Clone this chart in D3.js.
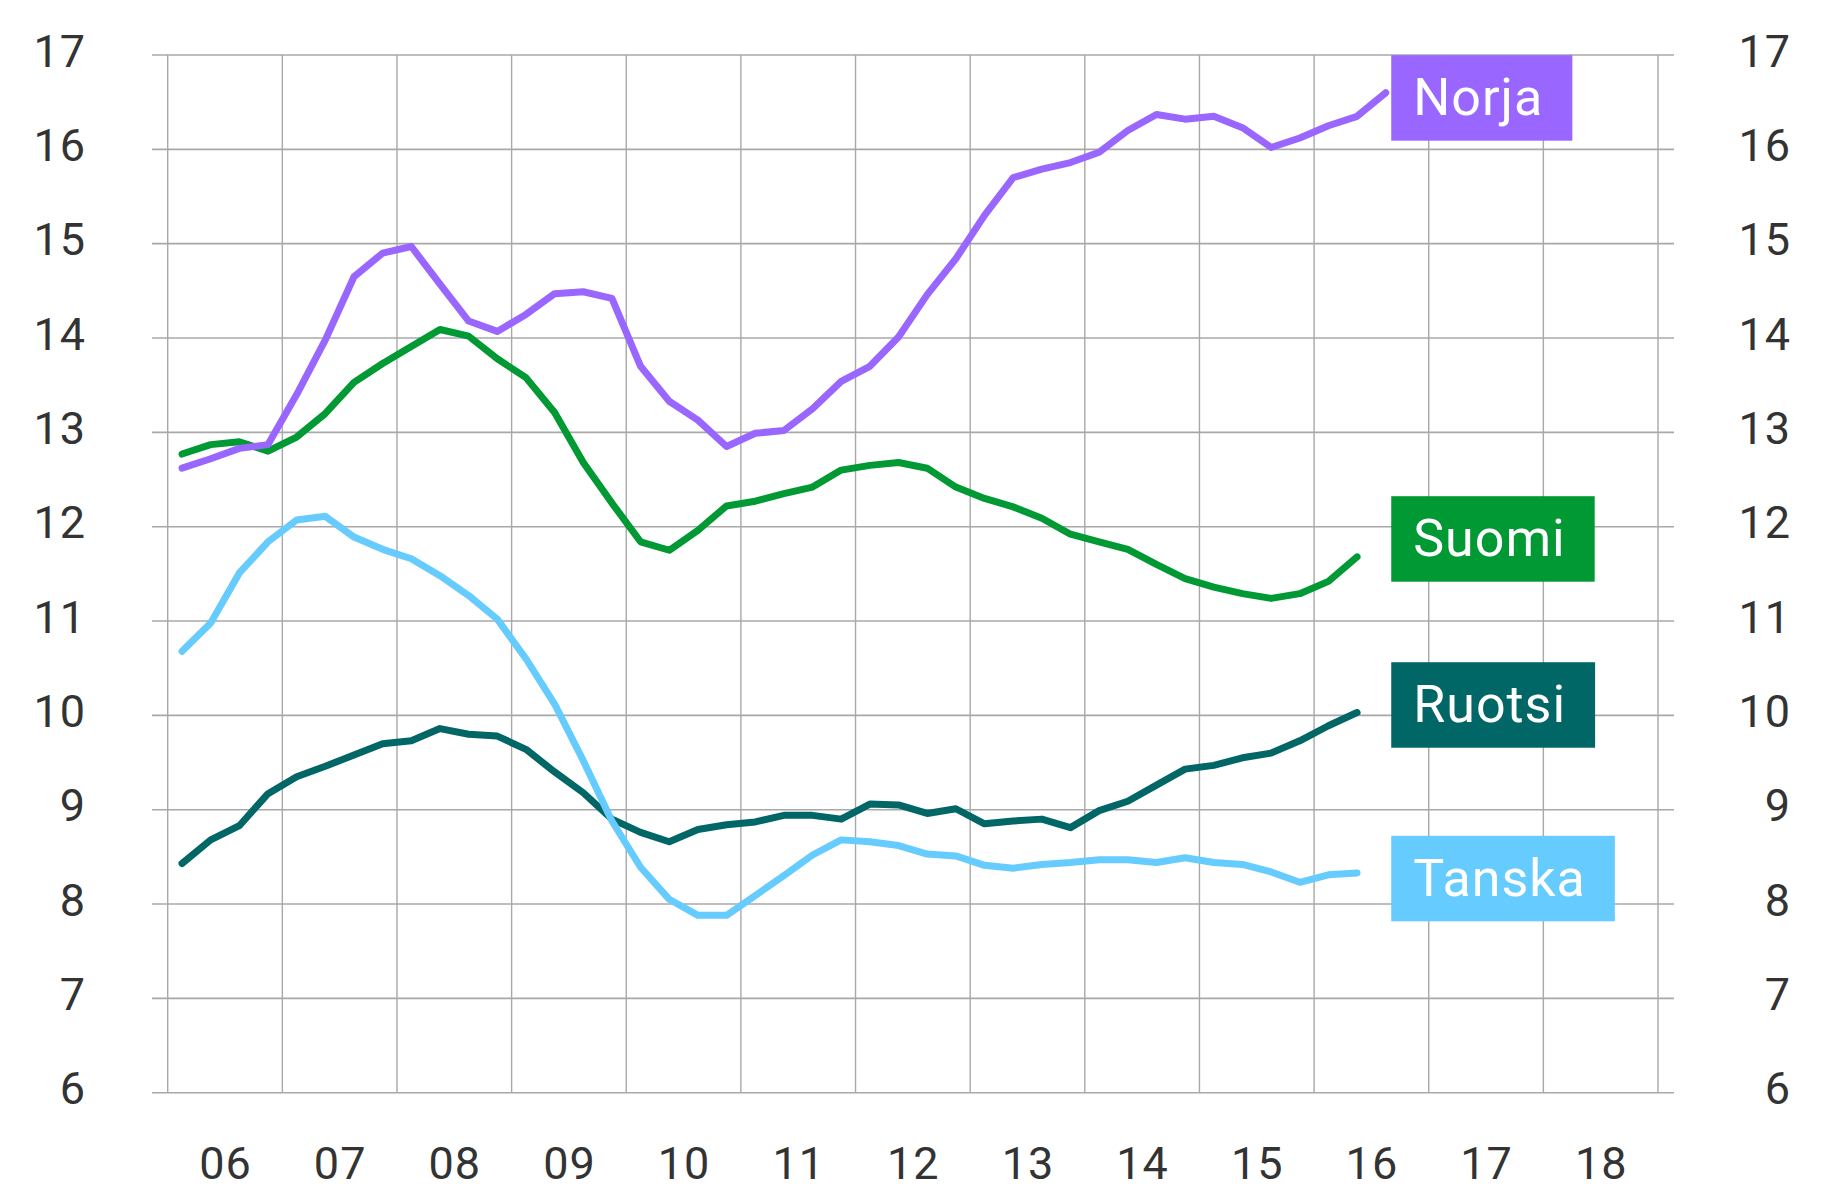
<!DOCTYPE html>
<html>
<head>
<meta charset="utf-8">
<script src="https://cdn.jsdelivr.net/npm/d3@7"></script>
<style>
  html, body { margin: 0; padding: 0; background: #fff; }
  svg { display: block; font-family: Roboto, "Noto Sans", sans-serif; }
</style>
</head>
<body>
<svg id="chart" width="1836" height="1192"></svg>
<script>
// Quarterly series, first value = 2006 Q1
const startYear = 2006;
const norja = [12.62, 12.72, 12.83, 12.87, 13.40, 13.98, 14.65, 14.90, 14.97, 14.57,
  14.18, 14.07, 14.25, 14.47, 14.49, 14.42, 13.70, 13.33, 13.13, 12.85,
  12.99, 13.02, 13.25, 13.54, 13.70, 14.01, 14.46, 14.84, 15.30, 15.70,
  15.79, 15.86, 15.97, 16.20, 16.37, 16.32, 16.35, 16.23, 16.02, 16.12,
  16.25, 16.35, 16.60];
const suomi = [12.77, 12.87, 12.90, 12.80, 12.95, 13.20, 13.53, 13.73, 13.91, 14.09,
  14.02, 13.78, 13.58, 13.21, 12.68, 12.25, 11.84, 11.75, 11.96, 12.22,
  12.27, 12.35, 12.42, 12.60, 12.65, 12.68, 12.62, 12.42, 12.30, 12.21,
  12.09, 11.92, 11.84, 11.76, 11.60, 11.45, 11.36, 11.29, 11.24, 11.29,
  11.42, 11.68];
const ruotsi = [8.43, 8.68, 8.83, 9.17, 9.35, 9.46, 9.58, 9.70, 9.73, 9.86,
  9.80, 9.78, 9.64, 9.40, 9.18, 8.90, 8.76, 8.66, 8.79, 8.84,
  8.87, 8.94, 8.94, 8.90, 9.06, 9.05, 8.96, 9.01, 8.85, 8.88,
  8.90, 8.81, 8.99, 9.09, 9.26, 9.43, 9.47, 9.55, 9.60, 9.73,
  9.89, 10.03];
const tanska = [10.68, 10.98, 11.51, 11.84, 12.07, 12.11, 11.89, 11.76, 11.66, 11.48,
  11.27, 11.02, 10.60, 10.12, 9.52, 8.88, 8.39, 8.05, 7.88, 7.88,
  8.09, 8.30, 8.52, 8.68, 8.66, 8.62, 8.53, 8.51, 8.41, 8.38,
  8.42, 8.44, 8.47, 8.47, 8.44, 8.49, 8.44, 8.42, 8.34, 8.23,
  8.31, 8.33];

const yTicks = [6, 7, 8, 9, 10, 11, 12, 13, 14, 15, 16, 17];
const years = [2006, 2007, 2008, 2009, 2010, 2011, 2012, 2013, 2014, 2015, 2016, 2017, 2018];
const yearLabels = ["06", "07", "08", "09", "10", "11", "12", "13", "14", "15", "16", "17", "18"];

// Series drawn back to front; labelAt is the value the tag box is centred on
const seriesNames = ["Suomi", "Ruotsi", "Norja", "Tanska"];
const seriesValues = [suomi, ruotsi, norja, tanska];
const seriesColors = ["#009933", "#006666", "#9966ff", "#66ccff"];
const labelAt = [11.87, 10.11, 16.545, 8.27];

const svg = d3.select("#chart");
const x = d3.scaleLinear().domain([2006, 2019]).range([167.7, 1658]);
const y = d3.scaleLinear().domain([6, 17]).range([1092.7, 55]);

const gridLeft = 152, gridRight = 1674;

// horizontal grid
svg.append("g")
  .selectAll("line")
  .data(yTicks)
  .join("line")
  .attr("x1", gridLeft).attr("x2", gridRight)
  .attr("y1", d => y(d)).attr("y2", d => y(d))
  .attr("stroke", "#a8a8a8").attr("stroke-width", 1.6);

// vertical grid at year boundaries
svg.append("g")
  .selectAll("line")
  .data(years.concat([2019]))
  .join("line")
  .attr("x1", d => x(d)).attr("x2", d => x(d))
  .attr("y1", y(17)).attr("y2", y(6))
  .attr("stroke", "#a8a8a8").attr("stroke-width", 1.4);

// y labels on both sides
const yAxisLeft = d3.axisLeft(y).tickValues(yTicks).tickSize(0).tickPadding(0).tickFormat(d3.format("d"));
const yAxisRight = d3.axisLeft(y).tickValues(yTicks).tickSize(0).tickPadding(0).tickFormat(d3.format("d"));
function styleAxis(g) {
  g.select(".domain").remove();
  g.selectAll("text")
    .attr("fill", "#333")
    .attr("font-size", 45)
    .attr("dy", null)
    .attr("dominant-baseline", "auto")
    .attr("y", 11)
    .style("letter-spacing", "1px")
    .attr("font-family", "Roboto, 'Noto Sans', sans-serif");
}
svg.append("g").attr("transform", "translate(86,0)").call(yAxisLeft).call(styleAxis);
svg.append("g").attr("transform", "translate(1791,0)").call(yAxisRight).call(styleAxis);

// year labels centred in each year band
const xAxis = d3.axisBottom(x)
  .tickValues(years.map(d => d + 0.5))
  .tickSize(0).tickPadding(0)
  .tickFormat((d, i) => yearLabels[i]);
svg.append("g")
  .attr("transform", "translate(0,1179)")
  .call(xAxis)
  .call(g => {
    g.select(".domain").remove();
    g.selectAll("text")
      .attr("fill", "#333")
      .attr("font-size", 45)
      .attr("dy", null)
      .attr("y", 0)
      .style("letter-spacing", "1px")
      .attr("font-family", "Roboto, 'Noto Sans', sans-serif");
  });

const qTime = i => startYear + (i + 0.5) / 4;
const line = d3.line()
  .x((d, i) => x(qTime(i)))
  .y(d => y(d));

seriesValues.forEach((vals, k) => {
  svg.append("path")
    .datum(vals)
    .attr("d", line)
    .attr("fill", "none")
    .attr("stroke", seriesColors[k])
    .attr("stroke-width", 7)
    .attr("stroke-linejoin", "round")
    .attr("stroke-linecap", "round");
});

// name tags to the right of the lines
const tagLeft = x(qTime(norja.length - 1)) + 5.5;
const tagH = 85.5;
seriesNames.forEach((name, k) => {
  const cy = y(labelAt[k]);
  const g = svg.append("g");
  const rect = g.append("rect")
    .attr("x", tagLeft).attr("y", cy - tagH / 2)
    .attr("height", tagH)
    .attr("fill", seriesColors[k]);
  const t = g.append("text")
    .attr("x", tagLeft + 22)
    .attr("y", cy + 17)
    .attr("fill", "#fff")
    .attr("font-size", 52)
    .style("letter-spacing", "1px")
    .text(name);
  const w = t.node().getComputedTextLength();
  rect.attr("width", w + 22 + 29);
});
</script>
</body>
</html>
